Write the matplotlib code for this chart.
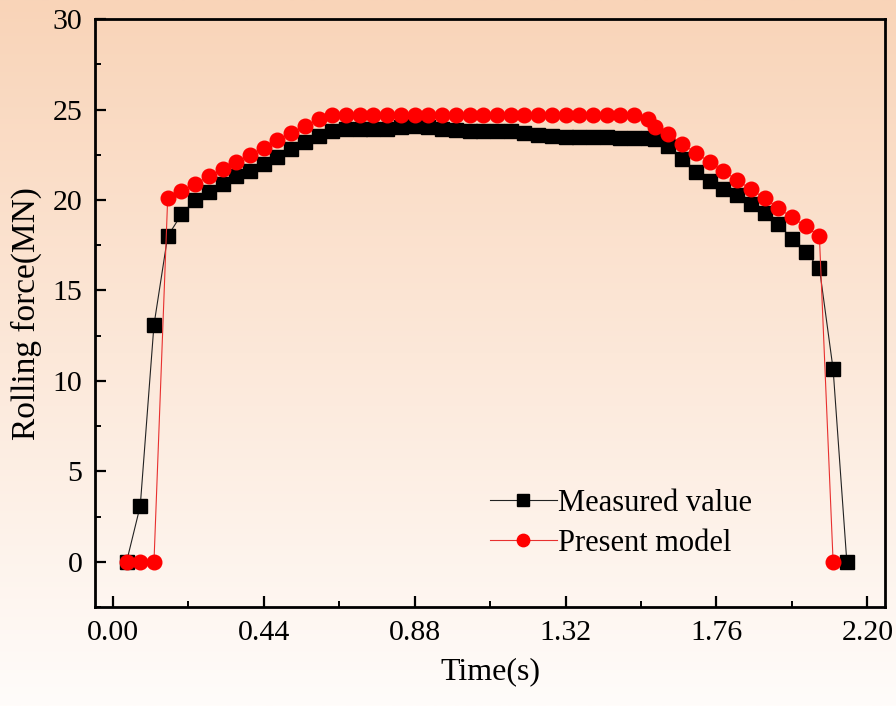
import numpy as np
import matplotlib.pyplot as plt
from matplotlib.ticker import MultipleLocator

# data
time_measured = [0.04, 0.08, 0.12, 0.16, 0.20, 0.24, 0.28, 0.32, 0.36, 0.40,
                 0.44, 0.48, 0.52, 0.56, 0.60, 0.64, 0.68, 0.72, 0.76, 0.80,
                 0.84, 0.88, 0.92, 0.96, 1.00, 1.04, 1.08, 1.12, 1.16, 1.20,
                 1.24, 1.28, 1.32, 1.36, 1.40, 1.44, 1.48, 1.52, 1.56, 1.58,
                 1.62, 1.66, 1.70, 1.74, 1.78, 1.82, 1.86, 1.90, 1.94, 1.98,
                 2.02, 2.06, 2.10, 2.14]
force_measured = [0.0, 3.1, 13.1, 18.0, 19.2, 20.0, 20.45, 20.9, 21.3, 21.6,
                  22.0, 22.4, 22.8, 23.2, 23.55, 23.8, 23.9, 23.9, 23.9, 23.95,
                  24.05, 24.1, 24.05, 23.95, 23.85, 23.8, 23.8, 23.8, 23.8, 23.7,
                  23.6, 23.55, 23.5, 23.5, 23.5, 23.5, 23.45, 23.4, 23.4, 23.35,
                  23.0, 22.25, 21.55, 21.05, 20.6, 20.25, 19.8, 19.3, 18.7, 17.85,
                  17.1, 16.25, 10.65, 0.0]

time_model = [0.04, 0.08, 0.12, 0.16, 0.20, 0.24, 0.28, 0.32, 0.36, 0.40,
              0.44, 0.48, 0.52, 0.56, 0.60, 0.64, 0.68, 0.72, 0.76, 0.80,
              0.84, 0.88, 0.92, 0.96, 1.00, 1.04, 1.08, 1.12, 1.16, 1.20,
              1.24, 1.28, 1.32, 1.36, 1.40, 1.44, 1.48, 1.52, 1.56, 1.58,
              1.62, 1.66, 1.70, 1.74, 1.78, 1.82, 1.86, 1.90, 1.94, 1.98,
              2.02, 2.06, 2.10]
force_model = [0.0, 0.0, 0.0, 20.1, 20.5, 20.9, 21.3, 21.7, 22.1, 22.5,
               22.9, 23.3, 23.7, 24.1, 24.45, 24.7, 24.7, 24.7, 24.7, 24.7,
               24.7, 24.7, 24.7, 24.7, 24.7, 24.7, 24.7, 24.7, 24.7, 24.7,
               24.7, 24.7, 24.7, 24.7, 24.7, 24.7, 24.7, 24.7, 24.45, 24.05,
               23.65, 23.1, 22.6, 22.1, 21.6, 21.1, 20.6, 20.1, 19.55, 19.05,
               18.55, 18.0, 0.0]

x_ticks = [0.00, 0.44, 0.88, 1.32, 1.76, 2.20]

plt.rcParams['font.family'] = ['Liberation Serif', 'DejaVu Serif']

fig = plt.figure(figsize=(8.96, 7.06), dpi=100)

# peach-to-white vertical gradient behind everything
bg = fig.add_axes([0, 0, 1, 1], zorder=-10)
top = np.array([249, 212, 184]) / 255
bottom = np.array([255, 252, 250]) / 255
t = np.linspace(0, 1, 256)[:, None]
grad = top * (1 - t) + bottom * t
bg.imshow(grad[:, None, :], aspect='auto', extent=[0, 1, 0, 1])
bg.axis('off')

ax = fig.add_axes([0.106, 0.140, 0.882, 0.833])
ax.set_facecolor('none')

ax.plot(time_measured, force_measured, color='#222222', linewidth=0.8,
        marker='s', markersize=9.5, markerfacecolor='black',
        markeredgecolor='black', label='Measured value')
ax.plot(time_model, force_model, color='#e8302f', linewidth=0.8,
        marker='o', markersize=10.5, markerfacecolor='red',
        markeredgecolor='red', label='Present model')

ax.set_xlim(-0.052, 2.252)
ax.set_ylim(-2.5, 30)
ax.set_xticks(x_ticks)
ax.set_xticklabels(['{:.2f}'.format(v) for v in x_ticks])
ax.xaxis.set_minor_locator(MultipleLocator(0.22))
ax.yaxis.set_major_locator(MultipleLocator(5))
ax.yaxis.set_minor_locator(MultipleLocator(2.5))

ax.tick_params(which='major', direction='in', length=8, width=1.6,
               labelsize=21.5, top=False, right=False)
ax.tick_params(which='minor', direction='in', length=4, width=1.4,
               top=False, right=False)
ax.tick_params(axis='x', which='major', pad=9)
ax.tick_params(axis='y', which='major', pad=9)
for s in ax.spines.values():
    s.set_linewidth(2.0)

ax.set_xlabel('Time(s)', fontsize=23, labelpad=8)
ax.set_ylabel('Rolling force(MN)', fontsize=24, labelpad=8)

leg = ax.legend(loc='upper left', bbox_to_anchor=(0.484, 0.222), frameon=False,
                fontsize=22, handlelength=2.2, handletextpad=0.05,
                labelspacing=0.35, borderaxespad=0, markerscale=0.85)

fig.savefig('out.png', dpi=100)
